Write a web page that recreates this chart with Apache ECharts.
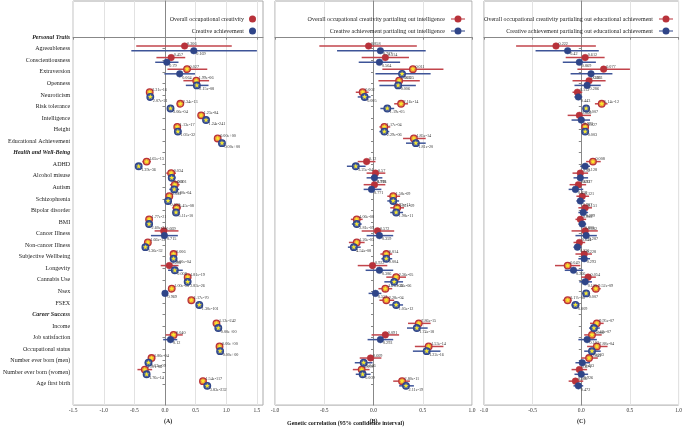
<!DOCTYPE html>
<html><head><meta charset="utf-8">
<script src="https://cdn.jsdelivr.net/npm/echarts@6/dist/echarts.min.js"></script>
<style>html,body{margin:0;padding:0;background:#fff}#c{width:685px;height:429px}</style>
</head><body><div id="c"></div>
<script>
const categories = ['Personal Traits','Agreeableness','Conscientiousness','Extraversion','Openness','Neuroticism','Risk tolerance','Intelligence','Height','Educational Achievement',
 'Health and Well-Being','ADHD','Alcohol misuse','Autism','Schizophrenia','Bipolar disorder','BMI','Cancer Illness','Non-cancer Illness','Subjective Wellbeing','Longevity','Cannabis Use','Nsex','FSEX',
 'Career Success','Income','Job satisfaction','Occupational status','Number ever born (men)','Number ever born (women)','Age first birth'];
const headers = ['Personal Traits','Health and Well-Being','Career Success'];
const xTicksA = [-1.5,-1.0,-0.5,0.0,0.5,1.0,1.5];
const xTicksBC = [-1.0,-0.5,0.0,0.5,1.0];

// Panel A: overall occupational creativity (red) / creative achievement (blue)
const aRedEst = [null,0.32,0.10,0.36,0.51,-0.25,0.25,0.59,0.20,0.86, null,-0.30,0.10,0.16,0.07,0.19,-0.26,-0.02,-0.28,0.14,0.07,0.37,0.11,0.43, null,0.84,0.14,0.89,-0.22,-0.33,0.62];
const aRedLo  = [null,-0.47,-0.14,0.04,0.30,-0.29,0.19,0.54,0.16,0.82, null,-0.37,0.02,0.08,0.01,0.12,-0.30,-0.17,-0.33,0.09,-0.07,0.33,0.07,0.39, null,0.81,0.01,0.86,-0.28,-0.45,0.58];
const aRedHi  = [null,1.09,0.33,0.69,0.72,-0.21,0.31,0.64,0.24,0.90, null,-0.23,0.18,0.24,0.13,0.26,-0.22,0.22,-0.23,0.19,0.22,0.41,0.15,0.47, null,0.87,0.29,0.92,-0.16,-0.21,0.66];
const aRedP   = [null,'0.306','0.457','0.027','1.99e-06','2.31e-16','2.34e-13','1.25e-84','1.13e-17','0.00e+00', null,'1.65e-13','0.034','0.001','0.033','5.45e-08','1.77e-21','0.669','1.66e-13','0.006','0.298','1.81e-19','1.00e-08','1.17e-70', null,'1.12e-242','0.040','0.00e+00','1.80e-04','1.37e-06','1.54e-117'];
const aBlueEst = [null,0.47,0.03,0.24,0.52,-0.24,0.09,0.67,0.21,0.93, null,-0.43,0.11,0.15,0.05,0.18,-0.26,-0.01,-0.32,0.14,0.16,0.37,0.00,0.56, null,0.87,0.09,0.90,-0.27,-0.30,0.69];
const aBlueLo  = [null,-0.55,-0.16,-0.01,0.34,-0.27,0.05,0.64,0.18,0.90, null,-0.47,0.05,0.07,0.01,0.13,-0.29,-0.23,-0.36,0.09,0.05,0.33,-0.04,0.53, null,0.84,-0.03,0.87,-0.33,-0.35,0.66];
const aBlueHi  = [null,1.50,0.22,0.49,0.71,-0.21,0.13,0.70,0.24,0.96, null,-0.39,0.17,0.23,0.09,0.23,-0.23,0.21,-0.28,0.19,0.29,0.41,0.04,0.59, null,0.90,0.20,0.93,-0.21,-0.25,0.72];
const aBlueP   = [null,'0.169','0.79','0.064','2.15e-08','2.07e-21','3.06e-04','1.24e-241','1.03e-32','0.00e+00', null,'1.39e-36','0.002','5.80e-04','0.023','5.11e-10','2.60e-24','0.715','1.36e-32','3.00e-04','0.008','2.83e-26','0.969','1.30e-101', null,'0.00e+00','0.12','0.00e+00','1.37e-09','1.76e-14','3.83e-232'];

// Panel B: partialing out intelligence
const bRedEst = [null,-0.05,0.12,0.40,0.26,-0.11,0.28,null,0.11,0.41, null,-0.07,0.02,0.01,0.20,0.24,-0.17,0.04,-0.17,0.13,-0.01,0.23,0.12,0.13, null,0.46,0.12,0.56,-0.03,-0.12,0.29];
const bRedLo  = [null,-0.55,-0.12,0.09,0.05,-0.18,0.21,null,0.06,0.30, null,-0.16,-0.07,-0.10,0.14,0.17,-0.23,-0.12,-0.25,0.07,-0.16,0.13,0.05,0.06, null,0.35,-0.02,0.42,-0.14,-0.21,0.20];
const bRedHi  = [null,0.44,0.36,0.71,0.47,-0.05,0.35,null,0.17,0.53, null,0.02,0.12,0.12,0.27,0.31,-0.11,0.21,-0.09,0.19,0.14,0.33,0.19,0.21, null,0.58,0.26,0.71,0.08,-0.04,0.37];
const bRedP   = [null,'0.858','0.314','0.011','0.015','0.002','2.16e-14',null,'1.17e-04','1.85e-14', null,'0.12','0.57','0.798','1.58e-09','1.31e-09','4.06e-08','0.572','1.26e-05','0.014','0.922','2.36e-05','4.61e-04','2.28e-04', null,'7.86e-15','0.091','1.53e-14','0.609','0.007','2.80e-11'];
const bBlueEst = [null,0.07,0.06,0.29,0.25,-0.09,0.14,null,0.11,0.43, null,-0.18,0.01,-0.02,0.20,0.23,-0.17,0.06,-0.20,0.13,0.06,0.21,0.02,0.23, null,0.44,0.07,0.54,-0.10,-0.11,0.33];
const bBlueLo  = [null,-0.37,-0.15,0.02,0.06,-0.16,0.07,null,0.06,0.33, null,-0.27,-0.07,-0.10,0.14,0.17,-0.22,-0.07,-0.26,0.08,-0.08,0.11,-0.05,0.16, null,0.34,-0.06,0.40,-0.19,-0.18,0.26];
const bBlueHi  = [null,0.53,0.27,0.58,0.43,-0.03,0.21,null,0.16,0.53, null,-0.08,0.09,0.08,0.26,0.30,-0.12,0.20,-0.13,0.19,0.20,0.30,0.08,0.30, null,0.55,0.20,0.68,-0.01,-0.03,0.41];
const bBlueP   = [null,'0.727','0.564','0.035','0.006','0.005','1.19e-05',null,'2.29e-06','1.81e-20', null,'3.25e-04','0.915','0.771','6.73e-11','1.98e-11','2.81e-09','0.359','4.54e-08','0.004','0.386','1.76e-06','0.553','1.05e-12', null,'1.74e-18','0.293','1.22e-16','0.046','0.009','2.11e-19'];

// Panel C: partialing out educational achievement
const cRedEst = [null,-0.26,0.04,0.23,0.08,-0.04,0.21,-0.02,0.04,null, null,0.12,-0.01,-0.03,0.01,0.04,-0.01,0.04,-0.02,0.03,-0.14,0.07,0.15,-0.14, null,0.16,0.11,0.16,0.08,-0.02,-0.06];
const cRedLo  = [null,-0.67,-0.16,-0.04,-0.09,-0.09,0.14,-0.14,0.01,null, null,0.05,-0.09,-0.12,-0.05,-0.03,-0.06,-0.10,-0.08,-0.06,-0.27,0.00,0.10,-0.19, null,0.09,0.03,0.06,0.00,-0.10,-0.13];
const cRedHi  = [null,0.15,0.24,0.50,0.25,0.01,0.27,0.10,0.07,null, null,0.20,0.07,0.05,0.08,0.11,0.05,0.17,0.04,0.11,-0.01,0.15,0.20,-0.10, null,0.23,0.21,0.27,0.17,0.06,0.02];
const cRedP   = [null,'0.222','0.612','0.077','0.381','0.113','5.14e-12','0.866','0.027',null, null,'0.008','0.92','0.612','0.121','0.151','0.908','0.582','0.644','0.228','0.049','0.054','9.52e-09','3.17e-08', null,'9.95e-07','0.008','7.88e-04','0.043','0.671','0.166'];
const cBlueEst = [null,-0.14,-0.02,0.10,0.06,-0.03,0.05,0.00,0.04,null, null,0.04,-0.01,-0.06,-0.01,0.02,0.01,0.05,-0.04,0.03,-0.08,0.04,0.05,-0.06, null,0.13,0.06,0.11,0.01,0.00,-0.03];
const cBlueLo  = [null,-0.47,-0.19,-0.11,-0.07,-0.07,0.02,-0.10,0.02,null, null,-0.01,-0.08,-0.13,-0.05,-0.03,-0.03,-0.06,-0.08,-0.03,-0.17,-0.02,0.01,-0.10, null,0.08,-0.03,0.03,-0.06,-0.07,-0.08];
const cBlueHi  = [null,0.18,0.15,0.32,0.20,0.01,0.08,0.09,0.06,null, null,0.09,0.07,0.02,0.04,0.07,0.05,0.16,0.00,0.09,0.02,0.11,0.09,-0.02, null,0.19,0.16,0.20,0.09,0.07,0.02];
const cBlueP   = [null,'0.42','0.869','0.311','0.286','0.443','0.007','0.993','0.003',null, null,'0.128','0.917','0.459','0.987','0.299','0.860','0.287','0.330','0.293','0.266','0.125','0.007','0.009', null,'5.42e-07','0.102','0.003','0.433','0.926','0.472'];

const RED = '#b8323a', RED_LINE = '#c2444b', BLUE = '#2f4588', BLUE_LINE = '#3e5498';
const FONT = 'Liberation Serif';
const rowIdx = categories.map((_, i) => i);

function starPts(cx, cy, R, r) {
  const pts = [];
  for (let k = 0; k < 10; k++) {
    const ang = -Math.PI / 2 + k * Math.PI / 5;
    const rad = k % 2 === 0 ? R : r;
    pts.push([cx + rad * Math.cos(ang), cy + rad * Math.sin(ang)]);
  }
  return pts;
}

function buildData(est, lo, hi) {
  const out = [];
  est.forEach((v, i) => { if (v !== null) out.push([v, i, lo[i], hi[i]]); });
  return out;
}

function makeRender(kind, P) {
  const col = kind === 'red' ? RED : BLUE;
  const lineCol = kind === 'red' ? RED_LINE : BLUE_LINE;
  const dy = kind === 'red' ? -2.7 : 2.0;
  return function (params, api) {
    const est = api.value(0), yi = api.value(1), lo = api.value(2), hi = api.value(3);
    const c = api.coord([est, yi]), a = api.coord([lo, yi]), b = api.coord([hi, yi]);
    const y = c[1] + dy;
    const p = P[yi];
    const sig = parseFloat(p) < 0.05;
    const children = [
      {type: 'line', shape: {x1: a[0], y1: y, x2: b[0], y2: y}, style: {stroke: lineCol, lineWidth: 1.5}},
      {type: 'circle', shape: {cx: c[0], cy: y, r: 3.3},
        style: {fill: sig ? (kind === 'red' ? '#ee8f3a' : '#4d62a0') : col, stroke: col, lineWidth: sig ? 1.3 : 0.5}}
    ];
    if (sig) children.push({type: 'polygon', shape: {points: starPts(c[0], y, 2.6, 1.1)}, style: {fill: '#f7ea2e'}});
    children.push({type: 'text', x: c[0] + 2.5, y: kind === 'red' ? y - 2.4 : y + 3.6,
      style: {text: p, fontSize: 4.2, fontFamily: FONT, fill: '#333', align: 'left', verticalAlign: 'middle'}});
    return {type: 'group', children: children};
  };
}

const grids = [
  {left: 67, top: 1, width: 196, height: 405, show: true, borderColor: '#aaa', borderWidth: 1},
  {left: 275, top: 1, width: 197, height: 405, show: true, borderColor: '#aaa', borderWidth: 1},
  {left: 484, top: 1, width: 197, height: 405, show: true, borderColor: '#aaa', borderWidth: 1}
];
const xr = [[-1.5, 1.6, xTicksA, '(A)'], [-1.0, 1.0, xTicksBC, '(B)'], [-1.0, 1.0, xTicksBC, '(C)']];
const xAxes = xr.map((r, g) => ({
  gridIndex: g, type: 'value', min: r[0], max: r[1],
  name: r[3], nameLocation: 'middle', nameGap: 9,
  nameTextStyle: {fontSize: 6, fontWeight: 'bold', fontFamily: FONT, color: '#222'},
  axisLine: {show: true, lineStyle: {color: '#888'}},
  axisTick: {show: true, length: 2.5, customValues: r[2], lineStyle: {color: '#888'}},
  axisLabel: {fontSize: 5.5, fontFamily: FONT, color: '#333', margin: 2, customValues: r[2], formatter: v => v.toFixed(1)},
  splitLine: {show: true, lineStyle: {color: '#e2e2e2', width: 1}}
}));
xAxes.forEach((ax, g) => { ax.splitLine.customValues = xr[g][2]; });

const yAxes = [0, 1, 2].map(g => ({
  gridIndex: g, type: 'value', inverse: true, min: -3.13, max: 31.84,
  axisLine: {show: true, lineStyle: {color: '#888'}},
  axisTick: {show: true, length: 2.5, customValues: rowIdx, lineStyle: {color: '#888'}},
  axisLabel: {show: g === 0, customValues: rowIdx, fontSize: 6, fontFamily: FONT, color: '#222', margin: 3,
    formatter: v => { const n = categories[Math.round(v)]; if (n === undefined) return ''; return headers.includes(n) ? '{h|' + n + '}' : n; },
    rich: {h: {fontSize: 6, fontFamily: FONT, fontWeight: 'bold', fontStyle: 'italic', color: '#222'}}},
  splitLine: {show: false}
}));

const lineIcon = 'path://M0,3.5L16,3.5L16,4.5L0,4.5Z M4,4A4,4 0 1,1 12,4A4,4 0 1,1 4,4Z';
const legendText = {fontSize: 6, fontFamily: FONT, color: '#222'};
function legend(names, right, icon, w) {
  return {orient: 'vertical', right: right, top: 15.5, padding: 0, align: 'right', itemWidth: w, itemHeight: 7, itemGap: 5,
    selectedMode: false, textStyle: legendText,
    data: [{name: names[0], icon: icon, itemStyle: {color: RED}}, {name: names[1], icon: icon, itemStyle: {color: BLUE}}]};
}
const names = [
  ['Overall occupational creativity', 'Creative achievement'],
  ['Overall occupational creativity partialing out intelligence', 'Creative achievement partialing out intelligence'],
  ['Overall occupational creativity partialing out educational achievement', 'Creative achievement partialing out educational achievement']
];

const panelData = [
  [aRedEst, aRedLo, aRedHi, aRedP, aBlueEst, aBlueLo, aBlueHi, aBlueP],
  [bRedEst, bRedLo, bRedHi, bRedP, bBlueEst, bBlueLo, bBlueHi, bBlueP],
  [cRedEst, cRedLo, cRedHi, cRedP, cBlueEst, cBlueLo, cBlueHi, cBlueP]
];
const series = [];
panelData.forEach((d, g) => {
  series.push({name: names[g][0], type: 'custom', xAxisIndex: g, yAxisIndex: g, itemStyle: {color: RED},
    data: buildData(d[0], d[1], d[2]), renderItem: makeRender('red', d[3]), encode: {x: [0, 2, 3], y: 1}, z: 3});
  series.push({name: names[g][1], type: 'custom', xAxisIndex: g, yAxisIndex: g, itemStyle: {color: BLUE},
    data: buildData(d[4], d[5], d[6]), renderItem: makeRender('blue', d[7]), encode: {x: [0, 2, 3], y: 1}, z: 4});
});

const chart = echarts.init(document.getElementById('c'), null, {renderer: 'canvas'});
chart.setOption({
  animation: false,
  backgroundColor: '#fff',
  title: {text: 'Genetic correlation (95% confidence interval)', left: 287, top: 420, padding: 0,
    textStyle: {fontSize: 6, fontWeight: 'bold', fontFamily: FONT, color: '#222'}},
  grid: grids, xAxis: xAxes, yAxis: yAxes,
  legend: [legend(names[0], 429, 'circle', 7), legend(names[1], 220, lineIcon, 16), legend(names[2], 12, lineIcon, 16)],
  series: series
});
</script></body></html>
